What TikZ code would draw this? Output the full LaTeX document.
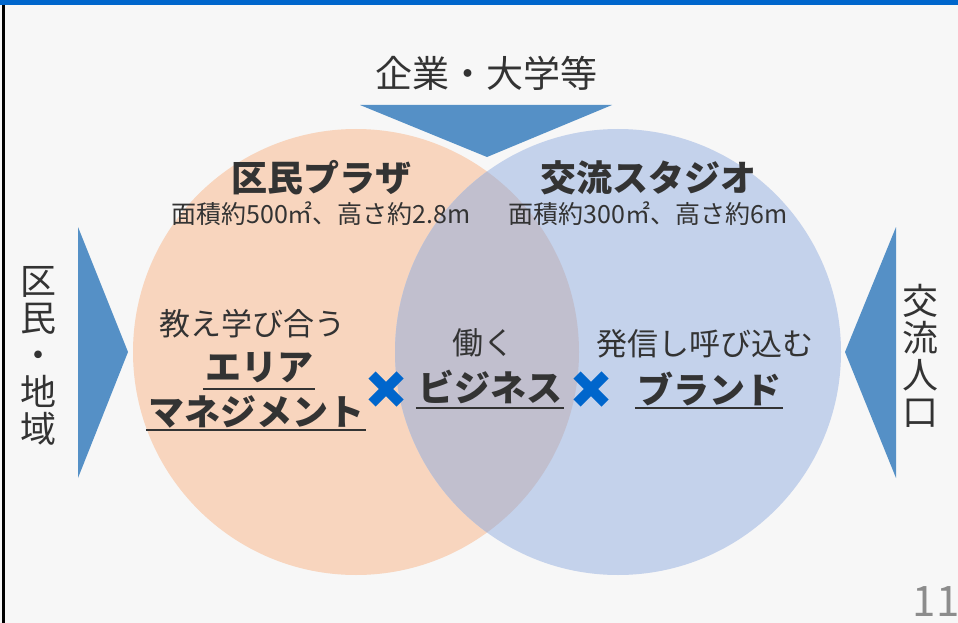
\documentclass[tikz,border=0pt]{standalone}
\usepackage{fontspec}
\setmainfont{Noto Sans CJK JP}
\usetikzlibrary{positioning}
\definecolor{barblue}{HTML}{0066CC}
\definecolor{arrowblue}{HTML}{5590C6}
\definecolor{plazaorange}{HTML}{F8D5BE}
\definecolor{studioblue}{HTML}{C4D2EB}
\definecolor{overlapgray}{HTML}{C1BFCE}
\definecolor{inkgray}{HTML}{333333}
\definecolor{pagegray}{HTML}{F7F7F7}
\definecolor{numgray}{HTML}{8C8C8C}

\begin{document}
\begin{tikzpicture}
		[x=1pt,y=-1pt,
		every node/.style={text=inkgray,inner sep=0pt},
		big/.style={font=\fontsize{37}{40}\selectfont},
		head/.style={font=\fontsize{36}{40}\selectfont\bfseries},
		uword/.style={head,inner xsep=2pt},
		sub/.style={font=\fontsize{25}{28}\selectfont},
		mid/.style={font=\fontsize{31}{34}\selectfont},
		vert/.style={align=center,font=\fontsize{36}{37}\selectfont},
		uline/.style={draw=inkgray,line width=2pt},
		cross/.style={draw=barblue,line width=10pt}]
		\useasboundingbox (0,0) rectangle (958,623);
		\fill[pagegray] (0,0) rectangle (958,623);
		\fill[barblue] (0,0) rectangle (958,5);
		\draw[black,line width=2.5pt] (3.5,5) -- (3.5,623);
		
		% circles
		\coordinate (PlazaC) at (356,352);
		\coordinate (StudioC) at (618,352);
		\fill[plazaorange] (PlazaC) circle (223pt);
		\fill[studioblue] (StudioC) circle (223pt);
		\begin{scope}
			\clip (PlazaC) circle (223pt);
			\fill[overlapgray] (StudioC) circle (223pt);
		\end{scope}
		
		% arrows
		\fill[arrowblue] (360,105) -- (612,105) -- (487,157) -- cycle;
		\fill[arrowblue] (78,227) -- (78,478) -- (128,352) -- cycle;
		\fill[arrowblue] (896,227) -- (896,478) -- (845,352) -- cycle;
		
		\node[big] (Firms) at (486,73) {企業・大学等};
		\node[vert] (Locals) at (38,356) {区\\民\\・\\地\\域};
		\node[vert] (Visitors) at (920,356) {交\\流\\人\\口};
		
		\node[head] (PlazaName) at (321,178) {区民プラザ};
		\node[sub,below=6pt of PlazaName] (PlazaSize) {面積約500㎡、高さ約2.8m};
		\node[head] (StudioName) at (648,178) {交流スタジオ};
		\node[sub,below=6pt of StudioName] (StudioSize) {面積約300㎡、高さ約6m};
		
		\node[mid] (Teach) at (252,324) {教え学び合う};
		\node[uword] (AreaA) at (259,368) {エリア};
		\node[uword] (AreaB) at (256,412) {マネジメント};
		\node[mid] (Work) at (483,343) {働く};
		\node[uword] (Biz) at (490,387) {ビジネス};
		\node[mid] (Send) at (705,344) {発信し呼び込む};
		\node[uword] (Brand) at (709,389) {ブランド};
		
		\draw[uline] ([yshift=-5pt]AreaA.south west) -- ([yshift=-5pt]AreaA.south east);
		\draw[uline] ([yshift=-1.5pt]AreaB.south west) -- ([yshift=-1.5pt]AreaB.south east);
		\draw[uline] ([yshift=-4pt]Biz.south west) -- ([yshift=-4pt]Biz.south east);
		\draw[uline] ([yshift=-2pt]Brand.south west) -- ([yshift=-2pt]Brand.south east);
		
		% crosses
		\coordinate (X1) at (386,389);
		\coordinate (X2) at (591,389);
		\draw[cross] ([shift={(-14,-14)}]X1) -- ([shift={(14,14)}]X1);
		\draw[cross] ([shift={(-14,14)}]X1) -- ([shift={(14,-14)}]X1);
		\draw[cross] ([shift={(-14,-14)}]X2) -- ([shift={(14,14)}]X2);
		\draw[cross] ([shift={(-14,14)}]X2) -- ([shift={(14,-14)}]X2);
		
		\node[font=\fontsize{42}{42}\selectfont,text=numgray] (PageNo) at (936,602) {11};
		
\end{tikzpicture}
\end{document}
